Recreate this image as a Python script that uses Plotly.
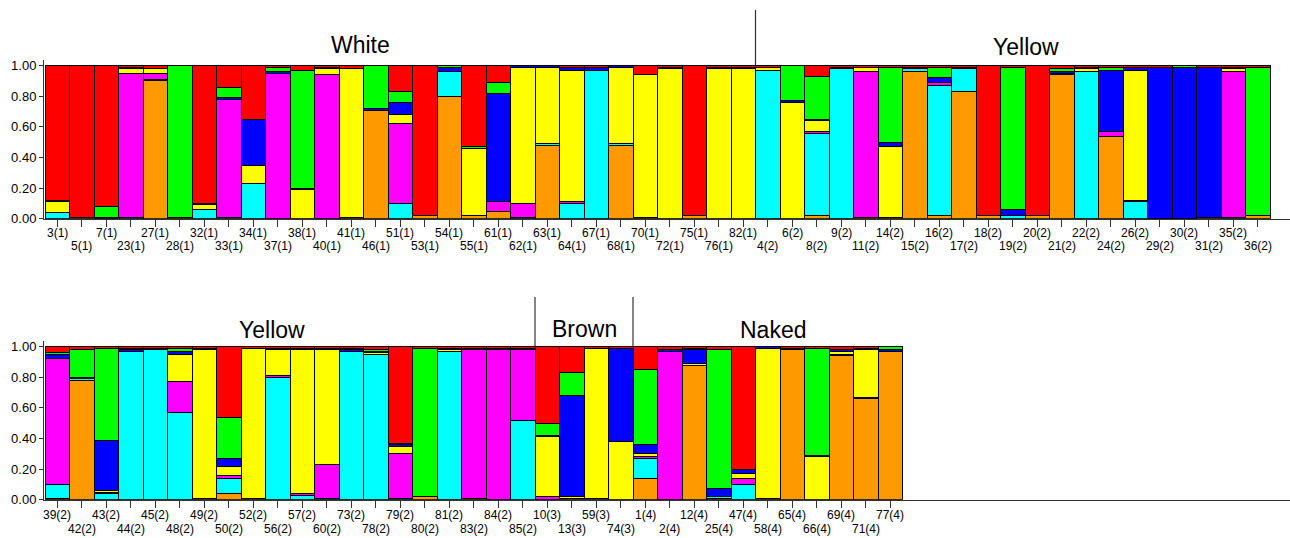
import plotly.graph_objects as go

# ---------------- data ----------------
top_labels = ["3(1)","5(1)","7(1)","23(1)","27(1)","28(1)","32(1)","33(1)","34(1)","37(1)",
              "38(1)","40(1)","41(1)","46(1)","51(1)","53(1)","54(1)","55(1)","61(1)","62(1)",
              "63(1)","64(1)","67(1)","68(1)","70(1)","72(1)","75(1)","76(1)","82(1)","4(2)",
              "6(2)","8(2)","9(2)","11(2)","14(2)","15(2)","16(2)","17(2)","18(2)","19(2)",
              "20(2)","21(2)","22(2)","24(2)","26(2)","29(2)","30(2)","31(2)","35(2)","36(2)"]
bottom_labels = ["39(2)","42(2)","43(2)","44(2)","45(2)","48(2)","49(2)","50(2)","52(2)","56(2)",
                 "57(2)","60(2)","73(2)","78(2)","79(2)","80(2)","81(2)","83(2)","84(2)","85(2)",
                 "10(3)","13(3)","59(3)","74(3)","1(4)","2(4)","12(4)","25(4)","47(4)","58(4)",
                 "65(4)","66(4)","69(4)","71(4)","77(4)"]

top_groups = ["White", "Yellow"]
top_group_sizes = [29, 21]
bottom_groups = ["Yellow", "Brown", "Naked"]
bottom_group_sizes = [20, 4, 11]

cluster_names = ["Orange", "Cyan", "Magenta", "Yellow", "Blue", "Green", "Red"]

top_orange = [0,.01,0,0,.90,0,0,0,0,0, 0,0,.01,.71,0,.02,.80,.02,.05,0,
              .48,0,0,.48,.01,0,.02,0,0,0, 0,.02,0,.01,.01,.96,.02,.83,.02,0,
              .02,.94,0,.54,0,0,0,.01,0,.02]
top_cyan = [.04,0,0,.01,.01,0,.06,.01,.23,0, 0,0,0,0,.10,0,.16,0,0,.01,
            .01,.10,.97,.01,0,0,0,0,0,.97, 0,.54,.98,0,0,.02,.85,.15,0,.02,
            0,.01,.96,0,.11,0,0,0,.01,0]
top_magenta = [0,0,.01,.94,.04,0,0,.77,0,.95, 0,.94,0,0,.52,0,0,0,.06,.09,
               0,.01,0,0,0,0,0,0,0,0, 0,.01,0,.95,0,0,.02,0,0,0,
               0,0,0,.03,.01,0,0,0,.95,0]
top_yellow = [.07,0,0,.03,.03,.01,.03,0,.12,0, .19,.04,.97,0,.06,0,0,.44,0,.89,
              .50,.86,0,.50,.93,.98,0,.98,.98,.02, .76,.07,0,.03,.46,0,0,0,0,0,
              0,0,.02,0,.85,0,0,0,.02,0]
top_blue = [.01,0,0,.01,0,0,.01,.01,.30,.01, .01,.01,0,.01,.08,0,.03,0,.71,.01,
            .01,.02,.02,.01,0,.01,0,.01,0,0, .01,.01,.01,0,.03,.01,.03,.01,0,.04,
            0,.01,.01,.40,.02,.99,.99,.98,0,0]
top_green = [0,0,.07,0,0,.99,0,.07,0,.03, .77,0,0,.28,.07,0,.01,.01,.07,0,
             0,0,0,0,0,0,0,0,.01,0, .23,.28,0,0,.49,0,.07,0,0,.93,
             0,.02,0,.02,0,0,.01,0,.01,.97]
top_red = [.88,.99,.92,.01,.02,0,.90,.14,.35,.01, .03,.01,.02,0,.17,.98,0,.53,.11,0,
           0,.01,.01,0,.06,.01,.98,.01,.01,.01, 0,.07,.01,.01,.01,.01,.01,.01,.98,.01,
           .98,.02,.01,.01,.01,.01,0,.01,.01,.01]

bot_orange = [.01,.78,0,0,0,0,.01,.04,.01,0, 0,0,0,0,0,.02,0,.01,0,0,
              0,.01,.01,0,.14,0,.88,.01,0,.01, .98,0,.94,.66,.97]
bot_cyan = [.09,.01,.04,.97,.98,.57,0,.10,0,.80, .03,.01,.97,.95,.01,0,.97,0,0,.52,
            0,0,0,0,.13,0,0,.01,.10,0, 0,0,.01,.01,0]
bot_magenta = [.82,0,.01,0,0,.20,0,.02,0,.01, .01,.22,0,0,.29,0,0,.97,.98,.46,
               .02,0,0,0,.01,.97,0,0,.04,0, 0,0,0,0,0]
bot_yellow = [0,.01,.01,0,0,.18,.97,.06,.98,.17, .94,.75,0,.01,.05,0,.01,0,.01,0,
              .39,.01,.98,.38,.02,0,.01,0,.03,.98, 0,.28,.02,.31,0]
bot_blue = [.03,0,.33,.01,.01,.02,.01,.05,0,.01, .01,.01,.01,.01,.01,0,.01,.01,0,.01,
            .01,.66,0,.61,.06,.01,.09,.05,.03,.01, .01,.01,.01,.01,.01]
bot_green = [.01,.18,.60,.01,0,.02,0,.27,0,0, 0,0,.01,.01,.01,.97,0,0,0,0,
             .08,.15,0,0,.49,0,.01,.91,0,0, 0,.70,0,0,.02]
bot_red = [.04,.02,.01,.01,.01,.01,.01,.46,.01,.01, .01,.01,.01,.02,.63,.01,.01,.01,.01,.01,
           .50,.17,.01,.01,.15,.02,.01,.02,.80,0, .01,.01,.02,.01,0]

# ---------------- styling ----------------
colors = ["#FF9900", "#00FFFF", "#FF00FF", "#FFFF00", "#0000FF", "#00FF00", "#FF0000"]
W, H = 1290, 538
BAR_PX = 24.5
X0_PX = 45 + BAR_PX / 2          # pixel centre of first bar
AX_LEFT = 44

def px_to_x(px):
    return (px - X0_PX) / BAR_PX

def py_to_paper(py):
    return 1 - py / H

top_series = [top_orange, top_cyan, top_magenta, top_yellow, top_blue, top_green, top_red]
bot_series = [bot_orange, bot_cyan, bot_magenta, bot_yellow, bot_blue, bot_green, bot_red]

fig = go.Figure()
for name, col, vals in zip(cluster_names, colors, top_series):
    fig.add_trace(go.Bar(x=list(range(len(top_labels))), y=vals, name=name, width=1,
                         marker=dict(color=col, line=dict(color="black", width=1)),
                         xaxis="x", yaxis="y", showlegend=False))
for name, col, vals in zip(cluster_names, colors, bot_series):
    fig.add_trace(go.Bar(x=list(range(len(bottom_labels))), y=vals, name=name, width=1,
                         marker=dict(color=col, line=dict(color="black", width=1)),
                         xaxis="x2", yaxis="y2", showlegend=False))

xr = [px_to_x(AX_LEFT), px_to_x(W)]
ymax = 1.035
top_y0, top_y1 = 218.7, 65.7
bot_y0, bot_y1 = 499.7, 346.7
def dom(y0, y1):
    per = (y0 - y1)
    return [py_to_paper(y0), py_to_paper(y0 - per * ymax)]

tick_font = dict(family="Liberation Sans", size=13, color="black")
common_x = dict(range=xr, showline=True, linecolor="#333", linewidth=1, ticks="outside",
                ticklen=7, tickcolor="#333", showticklabels=False, showgrid=False,
                zeroline=False, fixedrange=True, automargin=False)
common_y = dict(range=[0, ymax], showline=True, linecolor="#333", linewidth=1,
                ticks="outside", ticklen=4, tickcolor="#333",
                tickvals=[0, .2, .4, .6, .8, 1.0],
                ticktext=["0.00", "0.20", "0.40", "0.60", "0.80", "1.00"],
                tickfont=tick_font, showgrid=False, zeroline=False, automargin=False,
                fixedrange=True)

fig.update_layout(
    width=W, height=H, margin=dict(l=0, r=0, t=0, b=0, pad=0, autoexpand=False),
    paper_bgcolor="white", plot_bgcolor="white", barmode="stack", bargap=0,
    xaxis=dict(domain=[AX_LEFT / W, 1], anchor="y",
               tickvals=list(range(len(top_labels))), **common_x),
    yaxis=dict(domain=dom(top_y0, top_y1), anchor="x", **common_y),
    xaxis2=dict(domain=[AX_LEFT / W, 1], anchor="y2",
                tickvals=list(range(len(bottom_labels))), **common_x),
    yaxis2=dict(domain=dom(bot_y0, bot_y1), anchor="x2", **common_y),
)

lab_font = dict(family="Liberation Sans", size=12, color="black")
annos = []
for i, t in enumerate(top_labels):
    py = 233 if i % 2 == 0 else 246
    annos.append(dict(x=i, y=py_to_paper(py), xref="x", yref="paper", text=t,
                      showarrow=False, font=lab_font, xanchor="center", yanchor="middle"))
for i, t in enumerate(bottom_labels):
    py = 515 if i % 2 == 0 else 529
    annos.append(dict(x=i, y=py_to_paper(py), xref="x2", yref="paper", text=t,
                      showarrow=False, font=lab_font, xanchor="center", yanchor="middle"))

grp_font = dict(family="Liberation Sans", size=23, color="black")
top_title_px = [(360, 45), (1026, 47)]
bot_title_px = [(272, 330), (584, 329), (773, 330)]
for name, (px, py) in zip(top_groups, top_title_px):
    annos.append(dict(x=px_to_x(px), y=py_to_paper(py), xref="x", yref="paper", text=name,
                      showarrow=False, font=grp_font, xanchor="center", yanchor="middle"))
for name, (px, py) in zip(bottom_groups, bot_title_px):
    annos.append(dict(x=px_to_x(px), y=py_to_paper(py), xref="x2", yref="paper", text=name,
                      showarrow=False, font=grp_font, xanchor="center", yanchor="middle"))
fig.update_layout(annotations=annos)

shapes = []
cum = 0
for s in top_group_sizes[:-1]:
    cum += s
    shapes.append(dict(type="line", xref="x", yref="paper", x0=cum - 0.5, x1=cum - 0.5,
                       y0=py_to_paper(65), y1=py_to_paper(10), line=dict(color="#333", width=1.2)))
cum = 0
for s in bottom_group_sizes[:-1]:
    cum += s
    shapes.append(dict(type="line", xref="x2", yref="paper", x0=cum - 0.5, x1=cum - 0.5,
                       y0=py_to_paper(346), y1=py_to_paper(297), line=dict(color="#333", width=1.2)))
fig.update_layout(shapes=shapes)

fig.write_html("out.html", config={"displayModeBar": False, "staticPlot": True},
               post_script="document.body.style.margin='0';document.body.style.overflow='hidden';")
